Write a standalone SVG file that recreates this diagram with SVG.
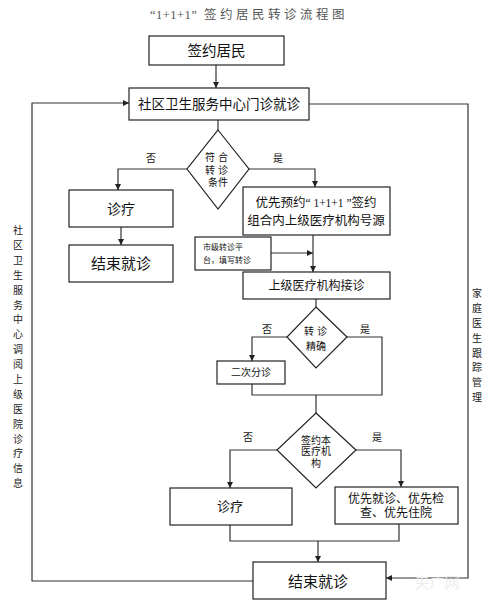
<svg xmlns="http://www.w3.org/2000/svg" width="495" height="608" viewBox="0 0 495 608">
<defs>
<marker id="ah" viewBox="0 0 10 10" refX="10" refY="5" markerWidth="6" markerHeight="6" markerUnits="userSpaceOnUse" orient="auto">
<path d="M0,0 L10,5 L0,10 z" fill="#222"/>
</marker>
<style>
.box{fill:#fff;stroke:#222;stroke-width:1.2}
.ln{fill:none;stroke:#333;stroke-width:1.2}
.t{font-family:"Liberation Sans","Noto Sans CJK SC",sans-serif;fill:#111;text-anchor:middle;dominant-baseline:central}
.ts{font-family:"Liberation Sans","Noto Sans CJK SC",sans-serif;fill:#111;text-anchor:start;dominant-baseline:central;font-size:8px}
.s{font-size:10px}
.v{font-family:"Liberation Sans","Noto Sans CJK SC",sans-serif;fill:#222;font-size:10px;text-anchor:middle}
</style>
</defs>
<rect width="495" height="608" fill="#fff"/>
<text x="249" y="15" font-family="'Liberation Serif','Noto Sans CJK SC',serif" font-size="12.5" fill="#555" text-anchor="middle" dominant-baseline="central"><tspan letter-spacing="0.5">“1+1+1”</tspan><tspan letter-spacing="3.5"> 签约居民转诊流程图</tspan></text>

<g id="connectors">
<path class="ln" d="M216,65 V88" marker-end="url(#ah)"/>
<path class="ln" d="M253,581 H32 V103 H129" marker-end="url(#ah)"/>
<path class="ln" d="M309,104 H468 V578 H386" marker-end="url(#ah)"/>
<path class="ln" d="M218,120 V130"/>
<path class="ln" d="M187,169 H118 V190" marker-end="url(#ah)"/>
<path class="ln" d="M249,169 H315 V187" marker-end="url(#ah)"/>
<path class="ln" d="M121,227 V245" marker-end="url(#ah)"/>
<path class="ln" d="M313,235 V272" marker-end="url(#ah)"/>
<path class="ln" d="M271,253 H313" marker-end="url(#ah)"/>
<path class="ln" d="M316,299 V307"/>
<path class="ln" d="M287,337 H252 V361" marker-end="url(#ah)"/>
<path class="ln" d="M347,337 H382 V395 H252 V384"/>
<path class="ln" d="M316,395 V413"/>
<path class="ln" d="M277,450 H230 V488" marker-end="url(#ah)"/>
<path class="ln" d="M356,450 H401 V487" marker-end="url(#ah)"/>
<path class="ln" d="M230,525 V541 H399 V524"/>
<path class="ln" d="M318,541 V562" marker-end="url(#ah)"/>
<text class="t s" x="151" y="158">否</text>
<text class="t s" x="278" y="158">是</text>
<text class="t s" x="267" y="329">否</text>
<text class="t s" x="365" y="329">是</text>
<text class="t s" x="248" y="437">否</text>
<text class="t s" x="377" y="437">是</text>
</g>

<g id="n-start">
<rect class="box" x="149" y="36" width="135" height="29"/>
<text class="t" x="216.5" y="51" font-size="14.5">签约居民</text>
</g>
<g id="n-community">
<rect class="box" x="129" y="88" width="180" height="32"/>
<text class="t" x="219" y="104" font-size="13.5">社区卫生服务中心门诊就诊</text>
</g>
<g id="n-d1">
<polygon class="box" points="218,130 249,169 218,209 187,169"/>
<text class="t s" x="218" y="157" letter-spacing="3">符合</text>
<text class="t s" x="218" y="170" letter-spacing="3">转诊</text>
<text class="t s" x="218" y="182">条件</text>
</g>
<g id="n-treat1">
<rect class="box" x="69" y="190" width="104" height="37"/>
<text class="t" x="121" y="208.5" font-size="14">诊疗</text>
</g>
<g id="n-end1">
<rect class="box" x="69" y="245" width="104" height="37"/>
<text class="t" x="121" y="263.5" font-size="15">结束就诊</text>
</g>
<g id="n-book">
<rect class="box" x="243" y="187" width="147" height="48"/>
<text class="t" x="316" y="203" font-size="12.5">优先预约<tspan font-family="'Liberation Serif',serif" font-size="11.5">“ 1+1+1 ”</tspan>签约</text>
<text class="t" x="316" y="221" font-size="12.5">组合内上级医疗机构号源</text>
</g>
<g id="n-platform">
<rect class="box" x="195" y="237" width="76" height="33"/>
<text class="ts" x="203" y="247">市级转诊平</text>
<text class="ts" x="203" y="260">台，填写转诊</text>
</g>
<g id="n-upper">
<rect class="box" x="243" y="272" width="147" height="27"/>
<text class="t" x="316.5" y="286" font-size="12">上级医疗机构接诊</text>
</g>
<g id="n-d2">
<polygon class="box" points="316,307 347,337 316,368 287,337"/>
<text class="t s" x="317" y="331" letter-spacing="3">转诊</text>
<text class="t s" x="316" y="346">精确</text>
</g>
<g id="n-second">
<rect class="box" x="217" y="361" width="68" height="23"/>
<text class="t s" x="251" y="372.5">二次分诊</text>
</g>
<g id="n-d3">
<polygon class="box" points="316,413 356,450 316,488 277,450"/>
<text class="t s" x="316" y="440">签约本</text>
<text class="t s" x="316" y="451">医疗机</text>
<text class="t s" x="316" y="463">构</text>
</g>
<g id="n-treat2">
<rect class="box" x="170" y="488" width="122" height="37"/>
<text class="t" x="230" y="506.5" font-size="13">诊疗</text>
</g>
<g id="n-priority">
<rect class="box" x="335" y="487" width="123" height="37"/>
<text class="t" x="396" y="499" font-size="12">优先就诊、优先检</text>
<text class="t" x="396" y="513" font-size="12">查、优先住院</text>
</g>
<g id="n-end2">
<rect class="box" x="253" y="562" width="133" height="37"/>
<text class="t" x="318" y="581" font-size="15">结束就诊</text>
</g>

<g id="side-labels">
<text class="v" x="18" y="234">社</text>
<text class="v" x="18" y="249">区</text>
<text class="v" x="18" y="264">卫</text>
<text class="v" x="18" y="279">生</text>
<text class="v" x="18" y="294">服</text>
<text class="v" x="18" y="309">务</text>
<text class="v" x="18" y="323">中</text>
<text class="v" x="18" y="338">心</text>
<text class="v" x="18" y="353">调</text>
<text class="v" x="18" y="368">阅</text>
<text class="v" x="18" y="383">上</text>
<text class="v" x="18" y="398">级</text>
<text class="v" x="18" y="413">医</text>
<text class="v" x="18" y="428">院</text>
<text class="v" x="18" y="443">诊</text>
<text class="v" x="18" y="457">疗</text>
<text class="v" x="18" y="472">信</text>
<text class="v" x="18" y="487">息</text>
<text class="v" x="477" y="297">家</text>
<text class="v" x="477" y="312">庭</text>
<text class="v" x="477" y="327">医</text>
<text class="v" x="477" y="342">生</text>
<text class="v" x="477" y="357">跟</text>
<text class="v" x="477" y="371">踪</text>
<text class="v" x="477" y="386">管</text>
<text class="v" x="477" y="401">理</text>
</g>
<text x="437" y="581" font-family="'Noto Sans CJK SC',sans-serif" font-size="15" fill="#eeeeee" text-anchor="middle" dominant-baseline="central">央广网</text>
</svg>
